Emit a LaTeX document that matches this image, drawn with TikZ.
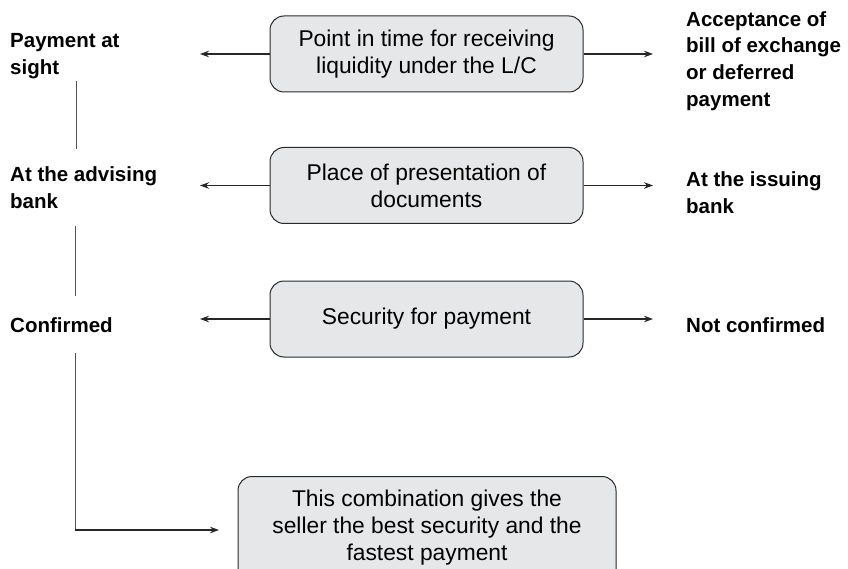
\documentclass[tikz,border=0pt]{standalone}
\usepackage{fontspec}
\setmainfont{Liberation Sans}
\usetikzlibrary{arrows.meta}
\definecolor{boxfill}{HTML}{E6E7E8}
\definecolor{boxdraw}{HTML}{2A2A2A}
\definecolor{linegray}{HTML}{555555}
\begin{document}
\begin{tikzpicture}[x=1pt,y=-1pt,
  box/.style={draw=boxdraw,fill=boxfill,rounded corners=14pt,line width=1pt,
    minimum width=313pt,minimum height=76pt,align=center,inner sep=0pt,
    font=\fontsize{22.8}{27}\selectfont},
  lab/.style={anchor=west,align=left,inner sep=0pt,
    font=\fontsize{20.5}{26.8}\selectfont\bfseries},
  arr/.style={draw=black!85,line width=1.1pt,-{Stealth[length=9pt,width=6.5pt]}},
  vline/.style={draw=linegray,line width=1pt}]
\useasboundingbox (0,0) rectangle (848,569);
% boxes
\node[box] (b1) at (426.5,54) {Point in time for receiving\\liquidity under the L/C};
\node[box] (b2) at (426.5,185.5) {Place of presentation of\\documents};
\node[box] (b3) at (426.5,319) {Security for payment};
\node[box,minimum width=378pt,minimum height=110pt,anchor=north] (b4) at (427,476) {};
\node[align=center,inner sep=0pt,anchor=north,font=\fontsize{22.8}{27}\selectfont] (t4) at (427,490)
  {This combination gives the\\seller the best security and the\\fastest payment};
% left labels
\node[lab] (l1) at (10,56) {Payment at\\sight};
\node[lab] (l2) at (10,188) {At the advising\\bank};
\node[lab] (l3) at (10,325) {Confirmed};
% right labels
\node[lab] (r1) at (686,61) {Acceptance of\\bill of exchange\\or deferred\\payment};
\node[lab] (r2) at (686,193) {At the issuing\\bank};
\node[lab] (r3) at (686,325) {Not confirmed};
% arrow endpoints
\coordinate (la1) at (200,54);
\coordinate (la2) at (200,185.5);
\coordinate (la3) at (200,319);
\coordinate (ra1) at (653,54);
\coordinate (ra2) at (653,185.5);
\coordinate (ra3) at (653,319);
\draw[arr] (b1.west) -- (la1);
\draw[arr] (b2.west) -- (la2);
\draw[arr] (b3.west) -- (la3);
\draw[arr] (b1.east) -- (ra1);
\draw[arr] (b2.east) -- (ra2);
\draw[arr] (b3.east) -- (ra3);
% vertical connectors
\coordinate (v1a) at (76,81);
\coordinate (v1b) at (76,149);
\coordinate (v2a) at (75,226);
\coordinate (v2b) at (75,296);
\coordinate (v3a) at (75,353);
\coordinate (v3b) at (75,530);
\coordinate (v3c) at (219,530);
\draw[vline] (v1a) -- (v1b);
\draw[vline] (v2a) -- (v2b);
\draw[vline] (v3a) -- (v3b);
\draw[arr] (v3b) -- (v3c);
\end{tikzpicture}
\end{document}
